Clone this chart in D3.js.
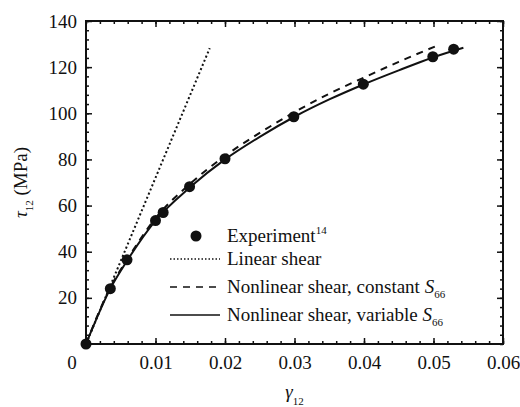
<!DOCTYPE html>
<html>
  <head>
    <meta charset="utf-8">
  </head>
  <body style="margin:0">
    <script src="https://cdn.jsdelivr.net/npm/d3@7/dist/d3.min.js"></script>
    <script>
    // experiment points (strain, stress MPa)
    var expStrain = [0, 0.0035, 0.0059, 0.0100, 0.0111, 0.0149, 0.0200, 0.0299, 0.0399, 0.0499, 0.0529];
    var expStress = [0, 24, 36.5, 53.5, 57, 68.2, 80.3, 98.5, 112.6, 124.5, 127.8];

    // linear shear
    var linStrain = [0, 0.0178];
    var linStress = [0, 128.2];

    // nonlinear shear, constant S66
    var constStrain = [0, 0.0035, 0.006, 0.010, 0.015, 0.020, 0.025, 0.030, 0.035, 0.040, 0.045, 0.0505];
    var constStress = [0, 24.5, 37, 54.5, 69.5, 81.5, 91.5, 100.5, 108.5, 115.5, 122.3, 129.3];

    // nonlinear shear, variable S66
    var varStrain = [0, 0.0035, 0.006, 0.010, 0.015, 0.020, 0.025, 0.030, 0.035, 0.040, 0.045, 0.050, 0.0543];
    var varStress = [0, 24, 36.5, 53.5, 68, 80, 89.8, 98.5, 106, 112.6, 118.6, 124.3, 128.4];

    var xTicks = [0.01, 0.02, 0.03, 0.04, 0.05, 0.06];
    var yTicks = [20, 40, 60, 80, 100, 120, 140];

    var FONT = "Liberation Serif";
    var FS = 19, SUB = 11;

    var margin = { top: 21, right: 17, bottom: 63, left: 86 },
        width = 520 - margin.left - margin.right,
        height = 407 - margin.top - margin.bottom;

    var svg = d3.select("body")
                .append("svg")
                  .attr("width", 520)
                  .attr("height", 407)
                  .attr("font-family", FONT)
                .append("g")
                  .attr("transform", "translate(" + margin.left + "," + margin.top + ")");

    var x = d3.scaleLinear().domain([0, 0.06]).range([0, width]);
    var y = d3.scaleLinear().domain([0, 140]).range([height, 0]);

    var minorX = d3.range(0, 0.0601, 0.002);
    var minorY = d3.range(0, 140.1, 4);

    function serif(sel) {
      return sel.attr("font-family", FONT).style("font-family", "'" + FONT + "'");
    }

    function styleAxis(g) {
      serif(g).attr("font-size", null);
      g.select(".domain").remove();
      g.selectAll("line").attr("stroke", "#111").attr("stroke-width", 1.5);
      serif(g.selectAll("text")).attr("font-size", FS).attr("fill", "#111");
    }

    // major ticks, inward
    svg.append("g").attr("transform", "translate(0," + height + ")")
      .call(d3.axisBottom(x).tickValues(xTicks).tickSize(-6).tickPadding(12).tickFormat(d3.format(".2f")))
      .call(styleAxis);
    svg.append("g")
      .call(d3.axisLeft(y).tickValues(yTicks).tickSize(-6).tickPadding(9))
      .call(styleAxis);
    svg.append("g")
      .call(d3.axisTop(x).tickValues(xTicks).tickSize(-6).tickFormat(""))
      .call(styleAxis);
    svg.append("g").attr("transform", "translate(" + width + ",0)")
      .call(d3.axisRight(y).tickValues(yTicks).tickSize(-6).tickFormat(""))
      .call(styleAxis);

    // minor ticks
    svg.append("g").attr("transform", "translate(0," + height + ")")
      .call(d3.axisBottom(x).tickValues(minorX).tickSize(-3).tickFormat("")).call(styleAxis);
    svg.append("g")
      .call(d3.axisTop(x).tickValues(minorX).tickSize(-3).tickFormat("")).call(styleAxis);
    svg.append("g")
      .call(d3.axisLeft(y).tickValues(minorY).tickSize(-3).tickFormat("")).call(styleAxis);
    svg.append("g").attr("transform", "translate(" + width + ",0)")
      .call(d3.axisRight(y).tickValues(minorY).tickSize(-3).tickFormat("")).call(styleAxis);

    // origin label
    serif(svg.append("text"))
      .attr("x", x(0) - 14)
      .attr("y", height + 12)
      .attr("dy", "0.71em")
      .attr("text-anchor", "middle")
      .attr("font-size", FS)
      .attr("fill", "#111")
      .text("0");

    // frame
    svg.append("rect")
      .attr("width", width).attr("height", height)
      .attr("fill", "none").attr("stroke", "#111").attr("stroke-width", 2);

    var line = d3.line()
      .x(function (d) { return x(d[0]); })
      .y(function (d) { return y(d[1]); })
      .curve(d3.curveMonotoneX);

    function zip(a, b) { return a.map(function (v, i) { return [v, b[i]]; }); }

    svg.append("path").datum(zip(linStrain, linStress))
      .attr("fill", "none").attr("stroke", "#111").attr("stroke-width", 2)
      .attr("stroke-dasharray", "2,2.5").attr("d", line);

    svg.append("path").datum(zip(constStrain, constStress))
      .attr("fill", "none").attr("stroke", "#111").attr("stroke-width", 2)
      .attr("stroke-dasharray", "7,6").attr("d", line);

    svg.append("path").datum(zip(varStrain, varStress))
      .attr("fill", "none").attr("stroke", "#111").attr("stroke-width", 2)
      .attr("d", line);

    svg.selectAll(".pt").data(zip(expStrain, expStress)).enter()
      .append("circle")
        .attr("cx", function (d) { return x(d[0]); })
        .attr("cy", function (d) { return y(d[1]); })
        .attr("r", 5.5)
        .attr("fill", "#111");

    // legend
    var lg = svg.append("g").attr("transform", "translate(" + (170 - margin.left) + ",0)");
    var rows = [221, 244, 272, 300];  // baselines, relative to plot top

    lg.append("circle").attr("cx", 26).attr("cy", rows[0] - 6).attr("r", 5.5).attr("fill", "#111");
    lg.append("line").attr("x1", 0).attr("x2", 50).attr("y1", rows[1] - 6).attr("y2", rows[1] - 6)
      .attr("stroke", "#111").attr("stroke-width", 1.5).attr("stroke-dasharray", "1.5,2");
    lg.append("line").attr("x1", 0).attr("x2", 50).attr("y1", rows[2] - 6).attr("y2", rows[2] - 6)
      .attr("stroke", "#111").attr("stroke-width", 1.5).attr("stroke-dasharray", "7,6");
    lg.append("line").attr("x1", 0).attr("x2", 50).attr("y1", rows[3] - 6).attr("y2", rows[3] - 6)
      .attr("stroke", "#111").attr("stroke-width", 1.5);

    function label(px, py) {
      return serif(lg.append("text")).attr("x", px).attr("y", py).attr("font-size", FS)
        .attr("fill", "#111");
    }

    var t0 = label(57, rows[0]);
    t0.append("tspan").text("Experiment");
    t0.append("tspan").attr("font-size", SUB).attr("dy", -8).text("14");

    label(57, rows[1]).text("Linear shear");

    var t2 = label(57, rows[2]);
    t2.append("tspan").text("Nonlinear shear, constant ");
    t2.append("tspan").attr("font-style", "italic").text("S");
    t2.append("tspan").attr("font-size", SUB).attr("dy", 5).text("66");

    var t3 = label(57, rows[3]);
    t3.append("tspan").text("Nonlinear shear, variable ");
    t3.append("tspan").attr("font-style", "italic").text("S");
    t3.append("tspan").attr("font-size", SUB).attr("dy", 5).text("66");

    // axis titles
    var xl = serif(svg.append("text"))
      .attr("x", x(0.03))
      .attr("y", height + 54)
      .attr("text-anchor", "middle")
      .attr("font-size", FS)
      .attr("fill", "#111");
    xl.append("tspan").attr("font-style", "italic").text("γ");
    xl.append("tspan").attr("font-size", SUB).attr("dy", 7).text("12");

    var yl = serif(svg.append("text"))
      .attr("transform", "translate(" + (-59) + "," + y(70) + ") rotate(-90)")
      .attr("text-anchor", "middle")
      .attr("font-size", FS)
      .attr("fill", "#111");
    yl.append("tspan").attr("font-style", "italic").text("τ");
    yl.append("tspan").attr("font-size", SUB).attr("dy", 6).text("12");
    yl.append("tspan").attr("dy", -6).text(" (MPa)");
    </script>
  </body>
</html>
